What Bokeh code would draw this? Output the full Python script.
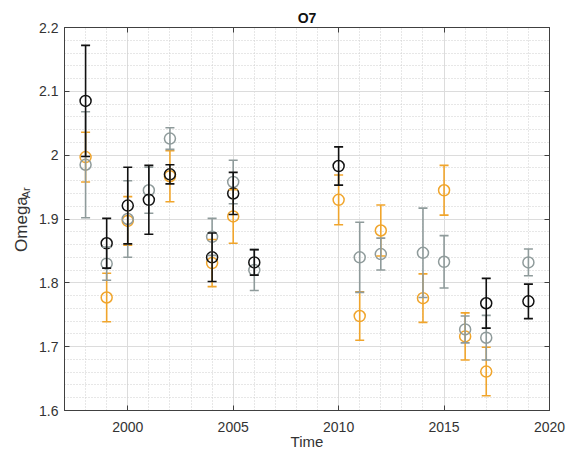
import numpy as np
from bokeh.plotting import figure
from bokeh.layouts import row
from bokeh.core.properties import value
from bokeh.models import (ColumnDataSource, Whisker, TeeHead, LinearAxis,
                          Range1d, SingleIntervalTicker, CustomJSTickFormatter)
from bokeh.embed import file_html
from bokeh.resources import INLINE

# ---- data ----
black_years = [1998, 1999, 2000, 2001, 2002, 2004, 2005, 2006, 2010, 2017, 2019]
black_vals = [2.085, 1.862, 1.921, 1.930, 1.970, 1.840, 1.940, 1.832, 1.983, 1.768, 1.771]
black_err = [0.087, 0.039, 0.060, 0.054, 0.015, 0.038, 0.033, 0.020, 0.030, 0.039, 0.027]

gray_years = [1998, 1999, 2000, 2001, 2002, 2004, 2005, 2006, 2011, 2012, 2014, 2015, 2016, 2017, 2019]
gray_vals = [1.985, 1.830, 1.900, 1.945, 2.026, 1.872, 1.958, 1.820, 1.840, 1.845, 1.847, 1.833, 1.727, 1.714, 1.832]
gray_err = [0.083, 0.026, 0.060, 0.036, 0.017, 0.029, 0.034, 0.032, 0.055, 0.025, 0.070, 0.041, 0.021, 0.035, 0.021]

orange_years = [1998, 1999, 2000, 2002, 2004, 2005, 2010, 2011, 2012, 2014, 2015, 2016, 2017]
orange_vals = [1.997, 1.777, 1.897, 1.967, 1.831, 1.904, 1.930, 1.748, 1.882, 1.776, 1.945, 1.716, 1.661]
orange_err = [0.039, 0.038, 0.038, 0.040, 0.037, 0.042, 0.039, 0.038, 0.040, 0.038, 0.039, 0.037, 0.038]

x_ticks = [2000, 2005, 2010, 2015, 2020]
y_ticks = [1.6, 1.7, 1.8, 1.9, 2.0, 2.1, 2.2]

title_text = "O7"
xlabel_text = "Time"
ylabel_main = "Omega"
ylabel_sub = "Ar"

BLACK = "#111111"
GRAY = "#8f9b9b"
ORANGE = "#f0a52c"
AXC = "#404040"
TXT = "#333333"
FONT = "Liberation Sans"

H = 452
LW = 34  # width of the strip holding the y-axis label

p = figure(width=566 - LW, height=H, output_backend="svg", toolbar_location=None,
           x_range=Range1d(1997, 2020), y_range=Range1d(1.6, 2.2),
           min_border_left=64 - LW, min_border_right=17, min_border_top=27, min_border_bottom=41)
p.background_fill_color = "white"
p.border_fill_color = "white"
p.outline_line_color = AXC
p.outline_line_width = 1

p.title.text = title_text
p.title.align = "center"
p.title.text_font = FONT
p.title.text_font_size = "14px"
p.title.text_font_style = "bold"
p.title.text_color = "#111111"
p.title.standoff = 4

xt = SingleIntervalTicker(interval=5, num_minor_ticks=5)
yt = SingleIntervalTicker(interval=0.1, num_minor_ticks=5)
p.xaxis.ticker = xt
p.yaxis.ticker = yt
p.xaxis.major_label_overrides = {t: str(t) for t in x_ticks}
p.yaxis.major_label_overrides = {t: ("%g" % t) for t in y_ticks}

for ax in [p.xaxis[0], p.yaxis[0]]:
    ax.major_tick_in = 5
    ax.major_tick_out = 0
    ax.minor_tick_in = 0
    ax.minor_tick_out = 0
    ax.axis_line_color = AXC
    ax.major_tick_line_color = AXC
    ax.major_label_text_color = TXT
    ax.major_label_text_font = FONT
    ax.major_label_text_font_size = "14px"

p.xaxis.major_label_standoff = 11
p.yaxis.major_label_standoff = 6
p.xaxis.axis_label = xlabel_text
p.xaxis.axis_label_text_font = FONT
p.xaxis.axis_label_text_font_size = "15px"
p.xaxis.axis_label_text_font_style = "normal"
p.xaxis.axis_label_text_color = TXT
p.xaxis.axis_label_standoff = -2

blank = CustomJSTickFormatter(code="return ''")
for loc, tk, so in [("above", xt, 2), ("right", yt, 0)]:
    a = LinearAxis(ticker=tk, formatter=blank, major_tick_in=5, major_tick_out=0,
                   minor_tick_in=0, minor_tick_out=0, axis_line_color=AXC,
                   major_tick_line_color=AXC, major_label_standoff=so,
                   major_label_text_font_size="1px")
    p.add_layout(a, loc)

p.xgrid.grid_line_color = "#dcdcdc"
p.ygrid.grid_line_color = "#dcdcdc"
p.xgrid.minor_grid_line_color = "#cfcfcf"
p.ygrid.minor_grid_line_color = "#cfcfcf"
p.xgrid.minor_grid_line_dash = "1 2"
p.ygrid.minor_grid_line_dash = "1 2"

def series(years, vals, errs, color):
    v = np.array(vals)
    e = np.array(errs)
    src = ColumnDataSource(dict(x=years, y=vals, upper=list(v + e), lower=list(v - e)))
    w = Whisker(base="x", upper="upper", lower="lower", source=src, dimension="height",
                line_color=color, line_width=1.6, level="glyph",
                upper_head=TeeHead(size=9, line_color=color, line_width=1.6),
                lower_head=TeeHead(size=9, line_color=color, line_width=1.6))
    p.add_layout(w)
    p.scatter("x", "y", source=src, marker="circle", size=11, fill_color=None,
              line_color=color, line_width=1.5)

series(orange_years, orange_vals, orange_err, ORANGE)
series(gray_years, gray_vals, gray_err, GRAY)
series(black_years, black_vals, black_err, BLACK)

# left strip carrying the rotated y-axis label "Omega" with subscript "Ar"
lab = figure(width=LW, height=H, output_backend="svg", toolbar_location=None,
             x_range=Range1d(0, LW), y_range=Range1d(0, H),
             min_border=0, min_border_left=0, min_border_right=0,
             min_border_top=0, min_border_bottom=0)
lab.axis.visible = False
lab.grid.visible = False
lab.outline_line_color = None
lab.background_fill_color = "white"
lab.border_fill_color = "white"
lab.text(x=[21], y=[H - 232.0], text=[ylabel_main], angle=np.pi / 2,
         text_align="center", text_baseline="alphabetic",
         text_font=value(FONT), text_font_size="17px", text_color=TXT)
lab.text(x=[25], y=[H - 195.0], text=[ylabel_sub], angle=np.pi / 2,
         text_align="center", text_baseline="alphabetic",
         text_font=value(FONT), text_font_size="11px", text_color=TXT)

layout = row(lab, p, spacing=0)
open("out.html", "w").write(file_html(layout, INLINE))
